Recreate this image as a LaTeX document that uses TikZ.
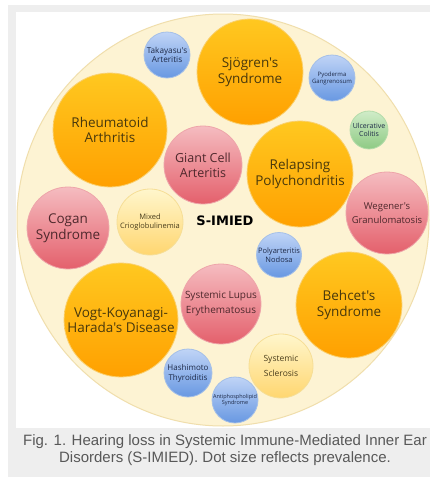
\documentclass[tikz,border=0pt]{standalone}
\usepackage{fontspec}
\setmainfont{Open Sans}[Ligatures=TeXOff]
\newfontfamily\capfont{Liberation Sans}
\newfontfamily\hubfont{DejaVu Sans}
\newcommand\bigtxt{\fontsize{13.5}{15.5}\selectfont}
\newcommand\midtxt{\fontsize{10}{15}\selectfont}
\newcommand\smalltxt{\fontsize{8}{10}\selectfont}
\definecolor{panelgrey}{RGB}{238,238,238}
\definecolor{creamfill}{RGB}{253,243,211}
\definecolor{creamedge}{RGB}{240,222,172}
\definecolor{orangetop}{RGB}{255,200,32}
\definecolor{orangebot}{RGB}{255,160,0}
\definecolor{orangeedge}{RGB}{250,208,110}
\definecolor{orangetext}{RGB}{72,56,12}
\definecolor{redtop}{RGB}{245,188,192}
\definecolor{redbot}{RGB}{228,96,108}
\definecolor{rededge}{RGB}{238,165,170}
\definecolor{redtext}{RGB}{78,40,44}
\definecolor{bluetop}{RGB}{192,212,246}
\definecolor{bluebot}{RGB}{104,152,226}
\definecolor{blueedge}{RGB}{165,192,232}
\definecolor{bluetext}{RGB}{30,42,72}
\definecolor{greentop}{RGB}{208,236,200}
\definecolor{greenbot}{RGB}{142,202,132}
\definecolor{greenedge}{RGB}{180,220,170}
\definecolor{yellowtop}{RGB}{255,246,204}
\definecolor{yellowbot}{RGB}{255,214,112}
\definecolor{yellowedge}{RGB}{246,222,150}
\definecolor{yellowtext}{RGB}{72,60,28}
\definecolor{captiongrey}{RGB}{88,88,88}

\begin{document}
\begin{tikzpicture}[x=1pt, y=-1pt,
	disease/.style={circle, inner sep=0pt, align=center, line width=0.8pt},
	orangedot/.style={disease, draw=orangeedge, top color=orangetop, bottom color=orangebot, text=orangetext, font=\bigtxt},
	reddot/.style={disease, draw=rededge, top color=redtop, bottom color=redbot, text=redtext, font=\midtxt},
	bluedot/.style={disease, draw=blueedge, top color=bluetop, bottom color=bluebot, text=bluetext, font=\smalltxt},
	greendot/.style={disease, draw=greenedge, top color=greentop, bottom color=greenbot, text=bluetext, font=\smalltxt},
	yellowdot/.style={disease, draw=yellowedge, top color=yellowtop, bottom color=yellowbot, text=yellowtext, font=\smalltxt}]
	\useasboundingbox (0,0) rectangle (430,477);
	\fill[white] (0,0) rectangle (430,477);
	\fill[panelgrey] (8,5) rectangle (430,477);
	\fill[white] (16,12) rectangle (430,428);
	
	\draw[creamedge, fill=creamfill, line width=1pt] (223,220) circle (206);
	
	\node[orangedot, minimum size=106pt] (sjogren) at (250,72) {Sjögren's\\Syndrome};
	\node[orangedot, minimum size=114pt] (rheuma) at (110,130) {Rheumatoid\\Arthritis};
	\node[orangedot, minimum size=106pt] (relapsing) at (300,174) {Relapsing\\Polychondritis};
	\node[orangedot, minimum size=114pt] (vogt) at (121,320) {Vogt-Koyanagi-\\Harada's Disease};
	\node[orangedot, minimum size=106pt] (behcet) at (349,305) {Behcet's\\Syndrome};
	
	\node[reddot, minimum size=78pt, font=\fontsize{12.5}{15}\selectfont] (giant) at (203,165) {Giant Cell\\Arteritis};
	\node[reddot, minimum size=82pt, font=\fontsize{9.5}{14}\selectfont] (wegener) at (387,213) {Wegener's\\Granulomatosis};
	\node[reddot, minimum size=82pt, font=\bigtxt] (cogan) at (68,228) {Cogan\\Syndrome};
	\node[reddot, minimum size=80pt] (lupus) at (221,304) {Systemic Lupus\\Erythematosus};
	
	\node[bluedot, minimum size=46pt, font=\fontsize{8.2}{9}\selectfont] (takayasu) at (167,55) {Takayasu's\\Arteritis};
	\node[bluedot, minimum size=46pt, font=\fontsize{6}{7}\selectfont] (pyoderma) at (332,78) {Pyoderma\\Gangrenosum};
	\node[greendot, minimum size=38pt, font=\fontsize{7}{8.5}\selectfont] (colitis) at (369,130) {Ulcerative\\Colitis};
	\node[bluedot, minimum size=45pt, font=\fontsize{7.5}{8.5}\selectfont] (polyart) at (279,255) {Polyarteritis\\Nodosa};
	\node[bluedot, minimum size=48pt] (hashimoto) at (188,373) {Hashimoto\\Thyroiditis};
	\node[bluedot, minimum size=46pt, font=\fontsize{5.5}{6.5}\selectfont] (antiphos) at (235,400) {Antiphospholipid\\Syndrome};
	
	\node[yellowdot, minimum size=66pt, font=\fontsize{7.5}{8.5}\selectfont] (mixed) at (150,222) {Mixed\\Crioglobulinemia};
	\node[yellowdot, minimum size=64pt, font=\fontsize{8.5}{15}\selectfont] (sclerosis) at (281,366) {Systemic\\Sclerosis};
	
	\node[font=\hubfont\bfseries\fontsize{13}{15}\selectfont] (hub) at (225,221) {S-IMIED};
	
	\node[align=center, text=captiongrey, font=\capfont\fontsize{15}{17}\selectfont] (caption) at (225,450.5) {Fig. 1. Hearing loss in Systemic Immune-Mediated Inner Ear\\Disorders (S-IMIED). Dot size reflects prevalence.};
\end{tikzpicture}
\end{document}
